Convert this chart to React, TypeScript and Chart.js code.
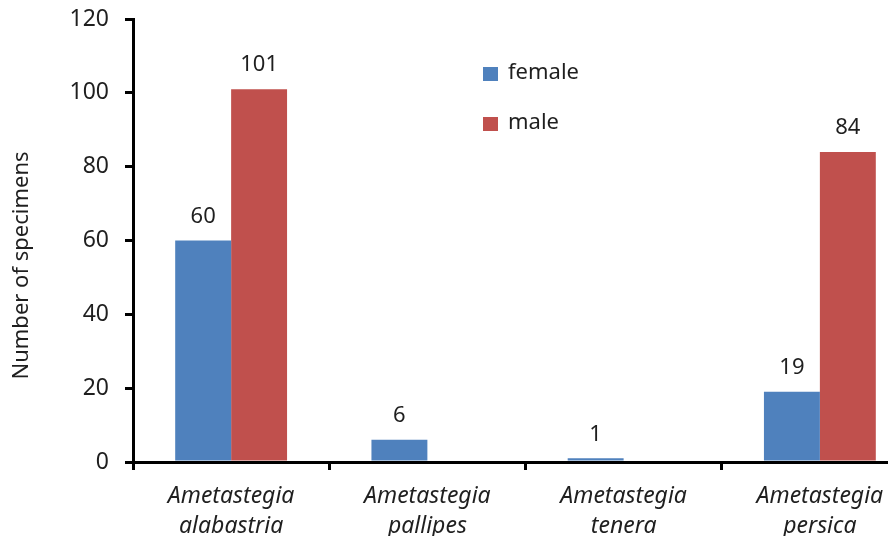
import { useEffect, useRef } from "react";
import { Chart, registerables } from "chart.js";

Chart.register(...registerables);

const categories = [
  ["Ametastegia", "alabastria"],
  ["Ametastegia", "pallipes"],
  ["Ametastegia", "tenera"],
  ["Ametastegia", "persica"],
];
const femaleValues = [60, 6, 1, 19];
const maleValues = [101, 0, 0, 84];
const yTicks = [0, 20, 40, 60, 80, 100, 120];
const seriesNames = ["female", "male"];
const seriesColors = ["#4F81BD", "#C0504D"];
const yTitle = "Number of specimens";

const FONT = "'Noto Sans', 'Open Sans', sans-serif";
const TEXT = "#1f1f1f";

const valueLabels = {
  id: "valueLabels",
  afterDatasetsDraw(chart: any) {
    const ctx = chart.ctx;
    ctx.save();
    ctx.font = `22px ${FONT}`;
    ctx.fillStyle = TEXT;
    ctx.textAlign = "center";
    ctx.textBaseline = "middle";
    chart.data.datasets.forEach((ds: any, i: number) => {
      const meta = chart.getDatasetMeta(i);
      meta.data.forEach((bar: any, j: number) => {
        const v = ds.data[j];
        if (v > 0) ctx.fillText(String(v), bar.x, bar.y - 24);
      });
    });
    ctx.restore();
  },
};

const customLegend = {
  id: "customLegend",
  afterDraw(chart: any) {
    const ctx = chart.ctx;
    const { left, top } = chart.chartArea;
    ctx.save();
    ctx.font = `22px ${FONT}`;
    ctx.textBaseline = "middle";
    ctx.textAlign = "left";
    chart.data.datasets.forEach((ds: any, i: number) => {
      const y = top + 55 + i * 50;
      ctx.fillStyle = ds.backgroundColor;
      ctx.fillRect(left + 350, y - 7, 15, 14);
      ctx.fillStyle = TEXT;
      ctx.fillText(ds.label, left + 375, y - 1);
    });
    ctx.restore();
  },
};

const axisTitle = {
  id: "axisTitle",
  afterDraw(chart: any) {
    const ctx = chart.ctx;
    const { top, bottom } = chart.chartArea;
    ctx.save();
    ctx.font = `22px ${FONT}`;
    ctx.fillStyle = TEXT;
    ctx.textAlign = "center";
    ctx.textBaseline = "middle";
    ctx.translate(22, (top + bottom) / 2 + 25);
    ctx.rotate(-Math.PI / 2);
    ctx.fillText(yTitle, 0, 0);
    ctx.restore();
  },
};

export default function App() {
  const ref = useRef<HTMLCanvasElement | null>(null);

  useEffect(() => {
    if (!ref.current) return;
    const chart = new Chart(ref.current, {
      type: "bar",
      data: {
        labels: categories,
        datasets: [
          { label: seriesNames[0], data: femaleValues, backgroundColor: seriesColors[0] },
          { label: seriesNames[1], data: maleValues, backgroundColor: seriesColors[1] },
        ],
      },
      options: {
        animation: false,
        responsive: false,
        devicePixelRatio: 1,
        layout: { padding: { top: 19, right: 12, left: 0, bottom: 0 } },
        datasets: { bar: { categoryPercentage: 0.57, barPercentage: 1.0 } },
        plugins: {
          legend: { display: false },
          tooltip: { enabled: false },
        },
        scales: {
          x: {
            afterFit: (s: any) => {
              s.height = 74;
              s.paddingLeft = 0;
              s.paddingRight = 0;
            },
            grid: {
              display: true,
              drawOnChartArea: false,
              drawTicks: true,
              tickLength: 8,
              color: "#000",
              lineWidth: 3,
            },
            border: { display: true, color: "#000", width: 3 },
            ticks: {
              color: TEXT,
              padding: 12,
              maxRotation: 0,
              font: { family: FONT, size: 23, style: "italic", lineHeight: 1.3 },
            },
          },
          y: {
            min: 0,
            max: 120,
            afterFit: (s: any) => {
              s.width = 133;
              s.paddingTop = 0;
              s.paddingBottom = 0;
            },
            afterBuildTicks: (s: any) => {
              s.ticks = yTicks.map((v) => ({ value: v }));
            },
            grid: {
              display: true,
              drawOnChartArea: false,
              drawTicks: true,
              tickLength: 8,
              color: "#000",
              lineWidth: 3,
            },
            border: { display: true, color: "#000", width: 3 },
            ticks: {
              color: TEXT,
              padding: 16,
              font: { family: FONT, size: 23 },
            },
            title: { display: false },
          },
        },
      },
      plugins: [valueLabels, customLegend, axisTitle],
    });
    return () => chart.destroy();
  }, []);

  return (
    <div
      style={{
        position: "fixed",
        left: 0,
        top: 0,
        width: 888,
        height: 536,
        overflow: "hidden",
        background: "#fff",
      }}
    >
      <canvas ref={ref} width={930} height={536} style={{ display: "block", width: 930, height: 536 }} />
    </div>
  );
}
